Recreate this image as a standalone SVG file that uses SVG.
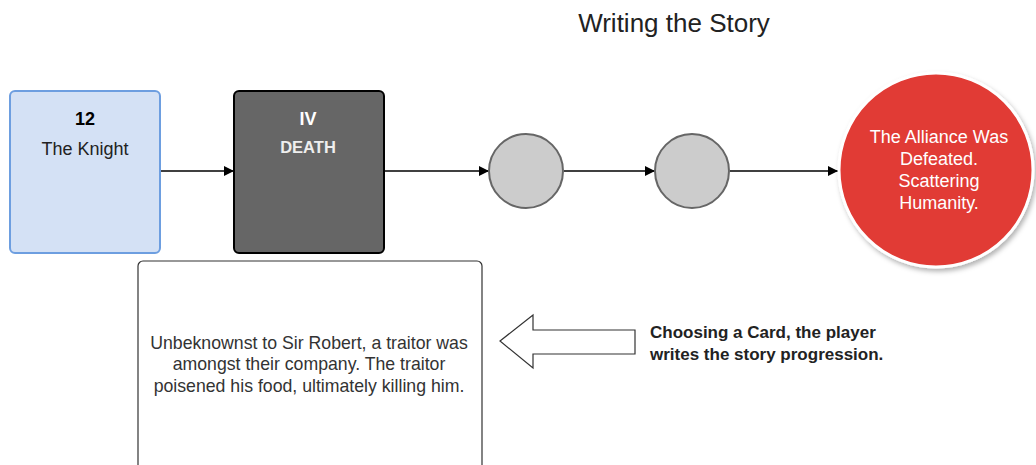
<svg xmlns="http://www.w3.org/2000/svg" width="1036" height="465" viewBox="0 0 1036 465">
<style>
text{font-family:"Liberation Sans",Arial,sans-serif;font-size:18px;text-anchor:middle}
.b{font-weight:bold}
.conn{stroke:#000;stroke-width:1.3;fill:none}
.gc{fill:#ccc;stroke:#666;stroke-width:2}
</style>
<defs>
<marker id="ah" viewBox="0 0 10 10" refX="10" refY="5" markerWidth="10" markerHeight="10" markerUnits="userSpaceOnUse" orient="auto">
<path d="M0,0 L10,5 L0,10 z" fill="#000"/>
</marker>
<filter id="sh" x="-20%" y="-20%" width="150%" height="150%">
<feDropShadow dx="2" dy="3" stdDeviation="2.5" flood-color="#000" flood-opacity="0.3"/>
</filter>
</defs>
<rect width="1036" height="465" fill="#fff"/>
<text x="674" y="32" style="font-size:26px" fill="#222">Writing the Story</text>
<g id="connectors">
<line class="conn" x1="160" y1="171" x2="234" y2="171" marker-end="url(#ah)"/>
<line class="conn" x1="385" y1="171" x2="489" y2="171" marker-end="url(#ah)"/>
<line class="conn" x1="564" y1="171" x2="655" y2="171" marker-end="url(#ah)"/>
<line class="conn" x1="730" y1="171" x2="838" y2="171" marker-end="url(#ah)"/>
</g>
<g id="knight">
<rect x="10" y="91" width="150" height="162" rx="5" fill="#d4e1f5" stroke="#6d9ee0" stroke-width="2"/>
<text x="85" y="125" class="b" fill="#000">12</text>
<text x="85" y="155" fill="#222">The Knight</text>
</g>
<g id="death">
<rect x="234" y="91" width="150" height="162" rx="5" fill="#666" stroke="#000" stroke-width="2"/>
<text x="308" y="125" class="b" fill="#fff">IV</text>
<text x="308" y="153" class="b" style="font-size:16.5px" fill="#eee">DEATH</text>
</g>
<g id="c1"><circle class="gc" cx="526" cy="171" r="37"/></g>
<g id="c2"><circle class="gc" cx="692" cy="171" r="37"/></g>
<g id="outcome">
<circle cx="936" cy="170" r="97" fill="#e13a34" stroke="#fff" stroke-width="3" filter="url(#sh)"/>
<text x="939" y="143" fill="#fff">The Alliance Was</text>
<text x="939" y="165" fill="#fff">Defeated.</text>
<text x="939" y="187" fill="#fff">Scattering</text>
<text x="939" y="209" fill="#fff">Humanity.</text>
</g>
<g id="story">
<rect x="138" y="261" width="344" height="230" rx="5" fill="#fff" stroke="#333" stroke-width="1.2"/>
<text x="309" y="349" style="font-size:17.7px" fill="#333">Unbeknownst to Sir Robert, a traitor was</text>
<text x="309" y="370" style="font-size:17.7px" fill="#333">amongst their company. The traitor</text>
<text x="309" y="392" style="font-size:17.7px" fill="#333">poisened his food, ultimately killing him.</text>
</g>
<g id="pointer">
<path d="M500,341 L533,315 L533,330 L635,330 L635,354 L533,354 L533,368 Z" fill="#fff" stroke="#333" stroke-width="1.2"/>
</g>
<g id="caption">
<text x="650" y="338" class="b" fill="#222" style="text-anchor:start;font-size:17px">Choosing a Card, the player</text>
<text x="650" y="360" class="b" fill="#222" style="text-anchor:start;font-size:17px">writes the story progression.</text>
</g>
</svg>
